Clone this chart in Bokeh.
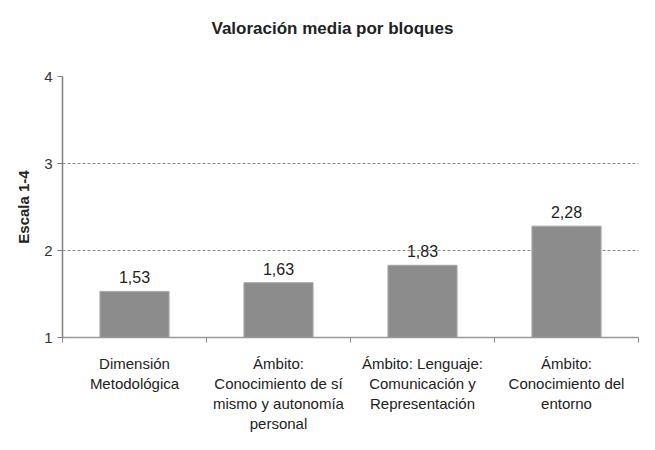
from bokeh.plotting import figure
from bokeh.models import ColumnDataSource, LabelSet, Title, FixedTicker, Range1d
from bokeh.core.properties import value
from bokeh.embed import file_html
from bokeh.resources import INLINE

# ---- data ----
categories = [
    "Dimensión\nMetodológica",
    "Ámbito:\nConocimiento de sí\nmismo y autonomía\npersonal",
    "Ámbito: Lenguaje:\nComunicación y\nRepresentación",
    "Ámbito:\nConocimiento del\nentorno",
]
values = [1.53, 1.63, 1.83, 2.28]
y_ticks = [1, 2, 3, 4]
title_text = "Valoración media por bloques"
y_label = "Escala 1-4"

FONT = "Liberation Sans"

positions = [i + 0.5 for i in range(len(categories))]
value_labels = [f"{v:.2f}".replace(".", ",") for v in values]

source = ColumnDataSource(dict(x=positions, top=values, label=value_labels))

p = figure(
    width=639, height=434, title=None,
    x_range=Range1d(0, len(categories)),
    y_range=Range1d(y_ticks[0], y_ticks[-1]),
    output_backend="svg", toolbar_location=None,
    min_border_left=62, min_border_right=1,
    min_border_top=76, min_border_bottom=94,
)
p.outline_line_color = None
p.background_fill_color = "white"
p.border_fill_color = "white"

p.vbar(x="x", top="top", bottom=y_ticks[0], width=0.48, source=source,
       fill_color="#8c8c8c", line_color="#a8a8a8", line_width=1)

labels = LabelSet(x="x", y="top", text="label", source=source,
                  text_align="center", text_baseline="bottom", y_offset=8,
                  text_font=value(FONT), text_font_size=value("16px"),
                  text_color="#222222")
p.add_layout(labels)

# spacer between title and plot frame, then the title itself
p.add_layout(Title(text=" ", text_font_size="2px", standoff=35), "above")
p.add_layout(Title(text=title_text, align="left", offset=149, standoff=0,
                   text_font=FONT, text_font_size="17px",
                   text_font_style="bold", text_color="#222222"), "above")

# x axis
xa = p.xaxis[0]
xa.ticker = FixedTicker(ticks=positions,
                        minor_ticks=list(range(len(categories) + 1)))
xa.major_label_overrides = {pos: cat for pos, cat in zip(positions, categories)}
xa.major_tick_line_color = None
xa.major_tick_out = 0
xa.major_tick_in = 0
xa.minor_tick_line_color = "#888888"
xa.minor_tick_out = 5
xa.minor_tick_in = 0
xa.axis_line_color = "#9a9a9a"
xa.axis_line_width = 1.5
xa.major_label_text_font = FONT
xa.major_label_text_font_size = "15px"
xa.major_label_text_color = "#222222"
xa.major_label_text_line_height = 1.18
xa.major_label_standoff = 12
xa.major_label_text_align = "center"

# y axis
ya = p.yaxis[0]
ya.ticker = FixedTicker(ticks=y_ticks, minor_ticks=[])
ya.axis_label = y_label
ya.axis_label_text_font = FONT
ya.axis_label_text_font_size = "15px"
ya.axis_label_text_font_style = "bold"
ya.axis_label_text_color = "#222222"
ya.axis_label_standoff = 9
ya.axis_line_color = "#808080"
ya.axis_line_width = 1.5
ya.major_tick_line_color = "#808080"
ya.major_tick_out = 5
ya.major_tick_in = 0
ya.minor_tick_line_color = None
ya.major_label_text_font = FONT
ya.major_label_text_font_size = "15px"
ya.major_label_text_color = "#333333"
ya.major_label_standoff = 5

p.xgrid.grid_line_color = None
p.ygrid.grid_line_color = "#8a8a8a"
p.ygrid.grid_line_dash = "3 2"
p.ygrid.grid_line_width = 1

open("out.html", "w").write(file_html(p, INLINE))
